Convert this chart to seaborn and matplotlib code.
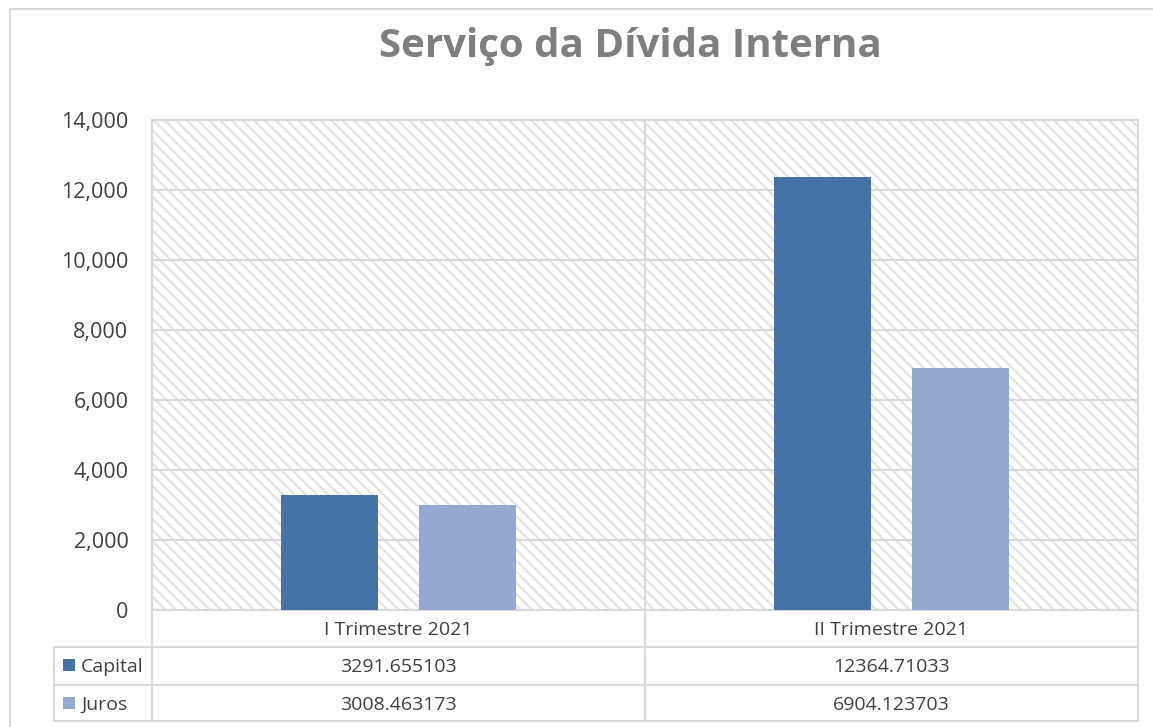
import matplotlib
matplotlib.use("Agg")
import matplotlib.pyplot as plt
import matplotlib.transforms as mtransforms
from matplotlib.lines import Line2D
from matplotlib.patches import Rectangle
import seaborn as sns
import pandas as pd

# ---- data ----
categories = ["I Trimestre 2021", "II Trimestre 2021"]
series = ["Capital", "Juros"]
capital = [3291.655103, 12364.71033]
juros = [3008.463173, 6904.123703]
capital_txt = ["3291.655103", "12364.71033"]
juros_txt = ["3008.463173", "6904.123703"]
yticks = [0, 2000, 4000, 6000, 8000, 10000, 12000, 14000]
title = "Serviço da Dívida Interna"

colors = {"Capital": "#4672A6", "Juros": "#95A9D0"}
grid_c = "#D9D9D9"
text_c = "#404040"

df = pd.DataFrame({
    "Trimestre": categories * 2,
    "Série": ["Capital"] * 2 + ["Juros"] * 2,
    "Valor": capital + juros,
})

sns.set_theme(style="white")
plt.rcParams["font.family"] = ["Open Sans", "DejaVu Sans"]
plt.rcParams["hatch.linewidth"] = 1.6
plt.rcParams["hatch.color"] = "#E4E4E4"

W, H = 1153, 727
fig = plt.figure(figsize=(W / 100, H / 100), dpi=100)

def fx(x):
    return x / W

def fy(y):
    return 1 - y / H

ax = fig.add_axes([fx(152), fy(610), fx(1138) - fx(152), fy(120) - fy(610)])

# hatched background
bg = Rectangle((0, 0), 1, 1, transform=ax.transAxes, facecolor="white",
               edgecolor="#E4E4E4", hatch="\\\\\\", linewidth=0, zorder=0)
ax.add_patch(bg)

sns.barplot(data=df, x="Trimestre", y="Valor", hue="Série", order=categories,
            hue_order=series, palette=colors, width=0.56, gap=0.3,
            saturation=1, ax=ax, legend=False, zorder=3, linewidth=0,
            errorbar=None)

ax.set_xlim(-0.5, 1.5)
ax.set_ylim(0, 14000)
ax.set_yticks(yticks)
ax.set_yticklabels([f"{v:,}" for v in yticks], fontsize=15.5, color=text_c)
ax.tick_params(axis="y", length=0, pad=17)
ax.set_xticks([])
ax.set_xlabel("")
ax.set_ylabel("")
for v in yticks:
    ax.axhline(v, color=grid_c, lw=1.5, zorder=1)
ax.axvline(0.5, color=grid_c, lw=1.5, zorder=1)
for s in ax.spines.values():
    s.set_color(grid_c)
    s.set_linewidth(1.5)
ax.set_facecolor("white")

# title
fig.text(fx(630), fy(47), title, ha="center", va="center", fontsize=29,
         fontweight="bold", color="#7F7F7F")

# outer chart border
fig.add_artist(Line2D([fx(10), fx(10)], [fy(9), 0], transform=fig.transFigure,
                      color=grid_c, lw=1.5))
fig.add_artist(Line2D([fx(10), 1], [fy(9), fy(9)], transform=fig.transFigure,
                      color=grid_c, lw=1.5))

# data table
tf = fig.transFigure
hlines = [(152, 1138, 647), (54, 1138, 647), (54, 1138, 685), (54, 1138, 721)]
for x0, x1, y in hlines:
    fig.add_artist(Line2D([fx(x0), fx(x1)], [fy(y), fy(y)], transform=tf,
                          color=grid_c, lw=1.5))
vlines = [(152, 610, 721), (645, 610, 721), (1138, 610, 721), (54, 647, 721)]
for x, y0, y1 in vlines:
    fig.add_artist(Line2D([fx(x), fx(x)], [fy(y0), fy(y1)], transform=tf,
                          color=grid_c, lw=1.5))

blend = mtransforms.blended_transform_factory(ax.transData, tf)
for i, cat in enumerate(categories):
    fig.text(i, fy(630), cat, transform=blend, ha="center", va="center",
             fontsize=14, color=text_c)
    fig.text(i, fy(667), capital_txt[i], transform=blend, ha="center",
             va="center", fontsize=14, color=text_c)
    fig.text(i, fy(705), juros_txt[i], transform=blend, ha="center",
             va="center", fontsize=14, color=text_c)

for name, yc in zip(series, [665, 703]):
    fig.add_artist(Rectangle((fx(63), fy(yc + 6)), fx(12), 12 / H,
                             transform=tf, facecolor=colors[name], lw=0))
    fig.text(fx(81), fy(yc + 2), name, ha="left", va="center", fontsize=14,
             color=text_c)

fig.savefig("out.png", dpi=100, facecolor="white")
